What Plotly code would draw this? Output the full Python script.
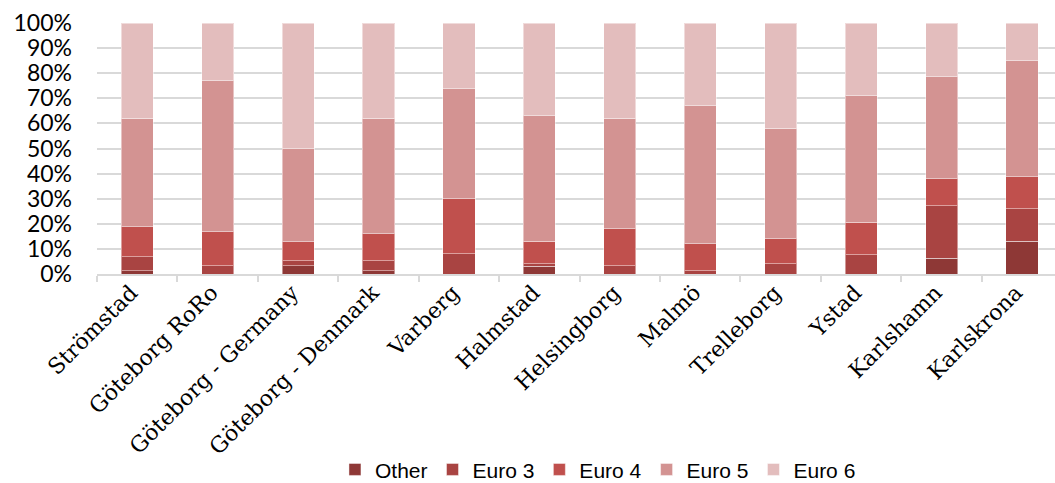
import plotly.graph_objects as go

categories = ["Strömstad", "Göteborg RoRo", "Göteborg - Germany", "Göteborg - Denmark",
              "Varberg", "Halmstad", "Helsingborg", "Malmö", "Trelleborg", "Ystad",
              "Karlshamn", "Karlskrona"]

other = [1.2, 0.0, 3.2, 1.2, 0.0, 3.0, 0.0, 0.0, 0.0, 0.0, 6.2, 13.0]
euro3 = [5.6, 3.2, 2.0, 4.0, 8.0, 1.0, 3.2, 1.2, 4.0, 7.6, 21.0, 13.0]
euro4 = [12.0, 13.6, 7.7, 10.8, 22.0, 9.0, 14.8, 10.8, 10.0, 13.1, 10.8, 12.8]
euro5 = [43.2, 60.2, 37.1, 46.0, 43.8, 50.0, 44.0, 55.0, 44.0, 50.3, 40.5, 46.2]
euro6 = [38.0, 23.0, 50.0, 38.0, 26.2, 37.0, 38.0, 33.0, 42.0, 29.0, 21.5, 15.0]

series = [("Other", other, "#8E3836"), ("Euro 3", euro3, "#A94442"),
          ("Euro 4", euro4, "#C0504D"), ("Euro 5", euro5, "#D39392"),
          ("Euro 6", euro6, "#E3BDBD")]

fig = go.Figure()
for name, vals, col in series:
    fig.add_trace(go.Bar(x=categories, y=vals, name=name, width=0.4,
                         marker=dict(color=col, line=dict(color="rgba(255,255,255,0.45)", width=1))))

fig.update_layout(
    barmode="stack",
    width=1055, height=483,
    margin=dict(l=97, r=0, t=23, b=209, autoexpand=False),
    plot_bgcolor="white", paper_bgcolor="white",
    showlegend=True,
    legend=dict(orientation="h", x=0.2484, y=-0.78, xanchor="left", yanchor="middle",
                font=dict(family="Liberation Sans Narrow, Arial Narrow, Liberation Sans, sans-serif",
                          size=21, color="#000000"),
                itemwidth=30, traceorder="normal", tracegroupgap=0),
    bargap=0.6,
)
fig.update_xaxes(
    range=[-0.5, 11.41], automargin=False,
    tickangle=-45,
    tickfont=dict(family="DejaVu Serif, Liberation Serif, serif", size=22, color="#000000"),
    showline=True, linecolor="#D9D9D9", linewidth=2,
    ticks="outside", tickson="boundaries", ticklen=6, tickcolor="#D9D9D9", tickwidth=2,
    showgrid=False, ticklabelstandoff=-5, ticklabelshift=-6,
)
fig.update_yaxes(
    range=[0, 100], automargin=False,
    tickvals=[0, 10, 20, 30, 40, 50, 60, 70, 80, 90, 100],
    ticktext=["0%", "10%", "20%", "30%", "40%", "50%", "60%", "70%", "80%", "90%", "100%"],
    tickfont=dict(family="Lato, Open Sans, sans-serif", size=23, color="#000000"),
    showgrid=True, gridcolor="#D9D9D9", gridwidth=2,
    zeroline=False, ticklabelstandoff=24,
)

fig.write_html("out.html", config={"displayModeBar": False},
               post_script="document.body.style.margin='0px';document.body.style.padding='0px';")
